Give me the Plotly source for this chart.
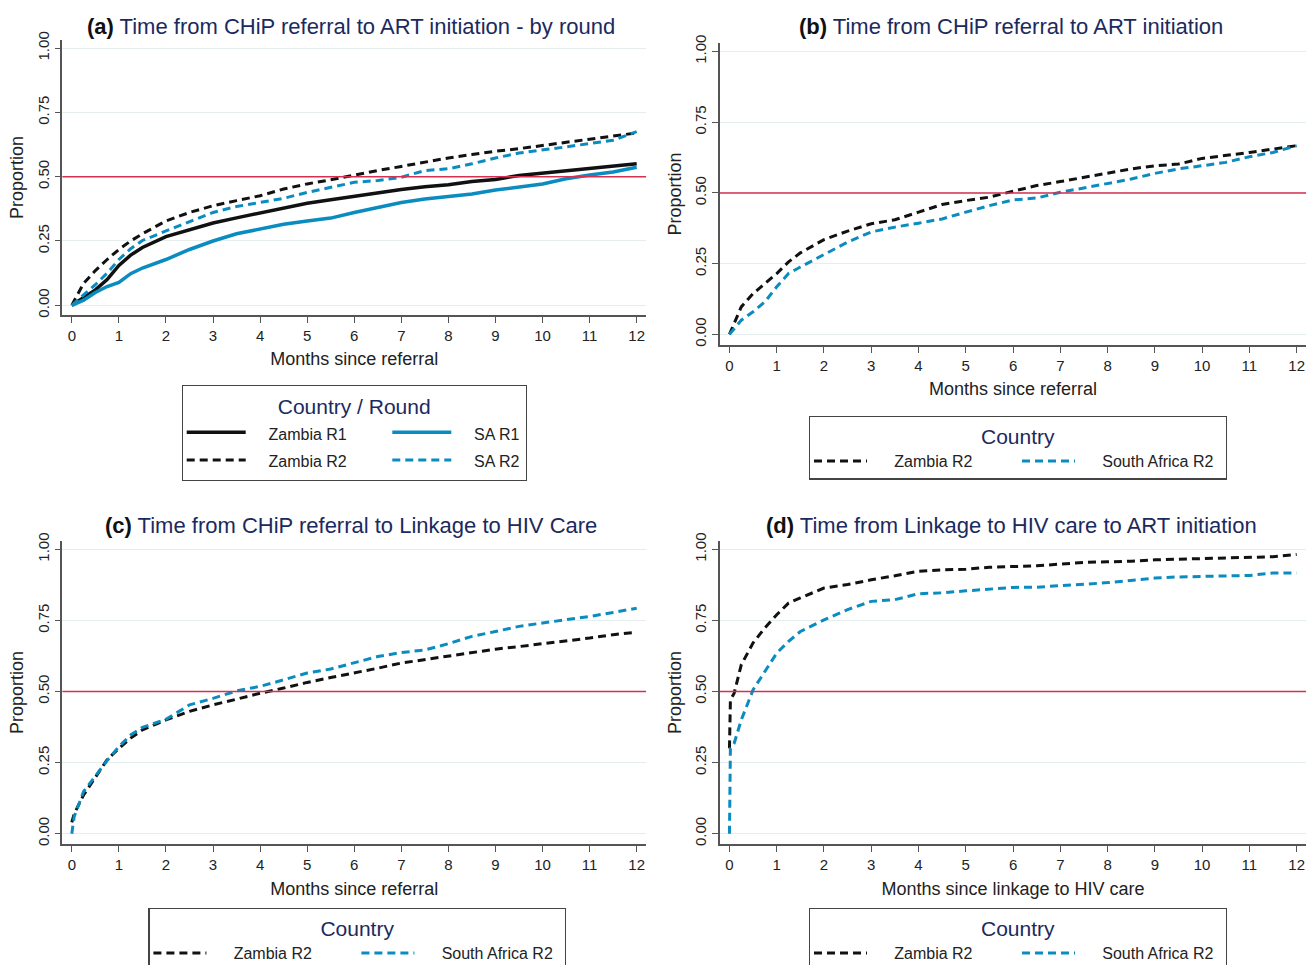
import plotly.graph_objects as go

# ---------------- data ----------------
T_A = [0, 0.25, 0.5, 0.75, 1, 1.25, 1.5, 2, 2.5, 3, 3.5, 4, 4.5, 5, 5.5, 6, 6.5, 7,
       7.5, 8, 8.5, 9, 9.5, 10, 10.5, 11, 11.5, 12]
A_ZAMBIA_R1 = [0, 0.03, 0.06, 0.10, 0.155, 0.195, 0.225, 0.267, 0.295, 0.32, 0.34, 0.36, 0.38,
               0.397, 0.41, 0.424, 0.437, 0.45, 0.461, 0.469, 0.481, 0.489, 0.505, 0.514,
               0.524, 0.533, 0.542, 0.55]
A_ZAMBIA_R2 = [0, 0.085, 0.135, 0.178, 0.217, 0.25, 0.278, 0.328, 0.361, 0.387, 0.407, 0.426,
               0.452, 0.472, 0.488, 0.507, 0.524, 0.54, 0.557, 0.573, 0.586, 0.599, 0.609,
               0.622, 0.635, 0.646, 0.658, 0.67]
A_SA_R1 = [0, 0.02, 0.05, 0.073, 0.089, 0.123, 0.145, 0.178, 0.217, 0.25, 0.278, 0.295, 0.315,
           0.328, 0.339, 0.361, 0.38, 0.4, 0.413, 0.422, 0.433, 0.448, 0.459, 0.472, 0.492,
           0.507, 0.518, 0.537]
A_SA_R2 = [0, 0.04, 0.08, 0.125, 0.178, 0.22, 0.252, 0.289, 0.324, 0.361, 0.384, 0.4, 0.416,
           0.439, 0.459, 0.478, 0.485, 0.498, 0.524, 0.531, 0.55, 0.573, 0.592, 0.603, 0.616,
           0.629, 0.642, 0.675]

T_B = T_A
B_ZAMBIA_R2 = [0, 0.097, 0.144, 0.18, 0.215, 0.256, 0.288, 0.335, 0.365, 0.391, 0.405, 0.432,
               0.459, 0.473, 0.485, 0.506, 0.526, 0.54, 0.555, 0.569, 0.585, 0.596, 0.602,
               0.622, 0.632, 0.643, 0.655, 0.667]
B_SA_R2 = [0, 0.05, 0.08, 0.115, 0.168, 0.215, 0.238, 0.283, 0.326, 0.362, 0.379, 0.393, 0.408,
           0.432, 0.455, 0.475, 0.482, 0.502, 0.518, 0.532, 0.549, 0.569, 0.585, 0.596, 0.608,
           0.628, 0.643, 0.667]

T_C = [0, 0.05, 0.25, 0.5, 0.75, 1, 1.25, 1.5, 2, 2.5, 3, 3.5, 4, 4.5, 5, 5.5, 6, 6.5, 7,
       7.5, 8, 8.5, 9, 9.5, 10, 10.5, 11, 11.5, 12]
C_ZAMBIA_R2 = [0.04, 0.07, 0.136, 0.2, 0.26, 0.3, 0.336, 0.365, 0.4, 0.43, 0.453, 0.473, 0.494,
               0.512, 0.532, 0.549, 0.565, 0.582, 0.6, 0.612, 0.626, 0.637, 0.649, 0.658,
               0.668, 0.676, 0.688, 0.7, 0.708]
C_SA_R2 = [0, 0.06, 0.148, 0.203, 0.257, 0.306, 0.347, 0.374, 0.402, 0.453, 0.476, 0.502, 0.518,
           0.541, 0.565, 0.579, 0.6, 0.623, 0.637, 0.646, 0.668, 0.694, 0.711, 0.729, 0.741,
           0.752, 0.764, 0.778, 0.793]

T_D = [0, 0.02, 0.1, 0.25, 0.5, 0.75, 1, 1.25, 1.5, 2, 2.5, 3, 3.5, 4, 4.5, 5, 5.5, 6, 6.5,
       7, 7.5, 8, 8.5, 9, 9.5, 10, 10.5, 11, 11.5, 12]
D_ZAMBIA_R2 = [0.30, 0.47, 0.494, 0.594, 0.671, 0.724, 0.77, 0.811, 0.829, 0.864, 0.876, 0.893,
               0.907, 0.923, 0.928, 0.93, 0.937, 0.94, 0.942, 0.948, 0.954, 0.956, 0.958,
               0.963, 0.965, 0.967, 0.969, 0.972, 0.974, 0.982]
D_SA_R2 = [0, 0.30, 0.318, 0.40, 0.506, 0.57, 0.635, 0.676, 0.711, 0.752, 0.788, 0.817, 0.823,
           0.844, 0.847, 0.854, 0.86, 0.866, 0.867, 0.871, 0.877, 0.883, 0.89, 0.899, 0.903,
           0.905, 0.908, 0.908, 0.917, 0.917]

X_TICKS = list(range(0, 13))
Y_TICKS = [0, 0.25, 0.5, 0.75, 1.0]
Y_TICK_LABELS = ["0.00", "0.25", "0.50", "0.75", "1.00"]

TITLES = [
    ("(a)", "Time from CHiP referral to ART initiation - by round"),
    ("(b)", "Time from CHiP referral to ART initiation"),
    ("(c)", "Time from CHiP referral to Linkage to HIV Care"),
    ("(d)", "Time from Linkage to HIV care to ART initiation"),
]
X_TITLES = ["Months since referral", "Months since referral",
            "Months since referral", "Months since linkage to HIV care"]
LEGEND_TITLES = ["Country / Round", "Country", "Country", "Country"]

# ---------------- style ----------------
W, H = 1314, 965
FONT = "Liberation Sans, Arial, Helvetica, sans-serif"
BLACK = "#111111"
BLUE = "#0a8cc0"
RED = "#d5304f"
NAVY = "#1b2a5e"
GRID = "#e5eeef"
AXIS = "#555555"
DASH = "8px,5px"
NB = "\u00a0"


def px_x(p):
    return p / W


def px_y(p):
    return 1 - p / H


def label(text, lead, trail=0):
    # legend label rendered at 16px, padded so the key/text gap matches the original
    return f"<span style='font-size:16px'>{NB * lead}{text}{NB * trail}</span>"


fig = go.Figure()


def add_line(x, y, name, color, dash, axis_idx, legend, group, width=3):
    suffix = "" if axis_idx == 1 else str(axis_idx)
    fig.add_trace(go.Scatter(
        x=x, y=y, mode="lines", name=name,
        line=dict(color=color, width=width, dash=dash),
        xaxis="x" + suffix, yaxis="y" + suffix,
        legend=legend, legendgroup=group, hoverinfo="skip",
    ))


add_line(T_A, A_ZAMBIA_R1, label("Zambia R1", 4, 8), BLACK, "solid", 1, "legend", "a_z", 3.5)
add_line(T_A, A_ZAMBIA_R2, label("Zambia R2", 4, 8), BLACK, DASH, 1, "legend", "a_z")
add_line(T_A, A_SA_R1, label("SA R1", 4), BLUE, "solid", 1, "legend", "a_s", 3.5)
add_line(T_A, A_SA_R2, label("SA R2", 4), BLUE, DASH, 1, "legend", "a_s")

add_line(T_B, B_ZAMBIA_R2, label("Zambia R2", 5), BLACK, DASH, 2, "legend2", "b_z")
add_line(T_B, B_SA_R2, label("South Africa R2", 5), BLUE, DASH, 2, "legend2", "b_s")

add_line(T_C, C_ZAMBIA_R2, label("Zambia R2", 5), BLACK, DASH, 3, "legend3", "c_z")
add_line(T_C, C_SA_R2, label("South Africa R2", 5), BLUE, DASH, 3, "legend3", "c_s")

add_line(T_D, D_ZAMBIA_R2, label("Zambia R2", 5), BLACK, DASH, 4, "legend4", "d_z")
add_line(T_D, D_SA_R2, label("South Africa R2", 5), BLUE, DASH, 4, "legend4", "d_s")

# panel geometry in pixels (left, right, top, bottom)
PANELS = [
    (62.4, 646.1, 40.4, 314.8),
    (720.0, 1306.1, 43.0, 344.8),
    (62.4, 646.1, 540.8, 844.2),
    (720.0, 1306.1, 540.8, 844.2),
]
TITLE_POS = [(351, 26), (1011, 26), (351, 525), (1011, 525)]

layout = dict(
    width=W, height=H,
    margin=dict(l=0, r=0, t=0, b=0, autoexpand=False),
    paper_bgcolor="white", plot_bgcolor="white",
    font=dict(family=FONT, color="#222222"),
    showlegend=True,
    annotations=[], shapes=[],
)

for i, (l, r, t, b) in enumerate(PANELS):
    n = i + 1
    sx = "" if n == 1 else str(n)
    layout["xaxis" + sx] = dict(
        domain=[px_x(l), px_x(r)], anchor="y" + sx, range=[-0.2, 12.2],
        tickvals=X_TICKS, ticks="outside", ticklen=6, tickwidth=1.2, tickcolor=AXIS,
        showline=True, linecolor=AXIS, linewidth=1.5, showgrid=False, zeroline=False,
        tickfont=dict(size=15, color="#222222"),
        title=dict(text=X_TITLES[i], font=dict(size=18, color="#222222"), standoff=10),
    )
    layout["yaxis" + sx] = dict(
        domain=[px_y(b), px_y(t)], anchor="x" + sx, range=[-0.037, 1.03],
        tickvals=Y_TICKS, ticktext=Y_TICK_LABELS, tickangle=-90,
        ticks="outside", ticklen=6, tickwidth=1.2, tickcolor=AXIS,
        showline=True, linecolor=AXIS, linewidth=1.5,
        showgrid=True, gridcolor=GRID, gridwidth=1, zeroline=False,
        tickfont=dict(size=15, color="#222222"),
        title=dict(text="Proportion", font=dict(size=18, color="#222222"), standoff=6),
    )
    tag, txt = TITLES[i]
    tx, ty = TITLE_POS[i]
    layout["annotations"].append(dict(
        x=px_x(tx), y=px_y(ty), xref="paper", yref="paper", xanchor="center", yanchor="middle",
        showarrow=False, font=dict(size=22, color=BLACK, family=FONT),
        text=f"<b>{tag}</b> <span style='color:{NAVY}'>{txt}</span>",
    ))
    layout["shapes"].append(dict(
        type="line", xref="x" + sx + " domain", yref="y" + sx, x0=0, x1=1, y0=0.5, y1=0.5,
        line=dict(color=RED, width=1.5), layer="above",
    ))


def legend_cfg(xp, yp, title, itemwidth, entrywidth, fontsize):
    return dict(
        x=px_x(xp), y=px_y(yp), xanchor="left", yanchor="top", xref="paper", yref="paper",
        orientation="h", bgcolor="white", bordercolor="#444444", borderwidth=1.2,
        font=dict(size=fontsize, color="#222222", family=FONT),
        title=dict(text=title, side="top center", font=dict(size=21, color=NAVY, family=FONT)),
        itemwidth=itemwidth, entrywidth=entrywidth, entrywidthmode="pixels",
        traceorder="grouped", tracegroupgap=0,
    )


layout["legend"] = legend_cfg(181.7, 385, LEGEND_TITLES[0], 59, 0, 19)
layout["legend2"] = legend_cfg(809, 415.5, LEGEND_TITLES[1], 53, 140, 16)
layout["legend3"] = legend_cfg(148.4, 907.5, LEGEND_TITLES[2], 53, 140, 16)
layout["legend4"] = legend_cfg(809, 907.5, LEGEND_TITLES[3], 53, 140, 16)

fig.update_layout(**layout)
fig.write_html("out.html", config={"displayModeBar": False},
               post_script="document.body.style.margin='0px';")
